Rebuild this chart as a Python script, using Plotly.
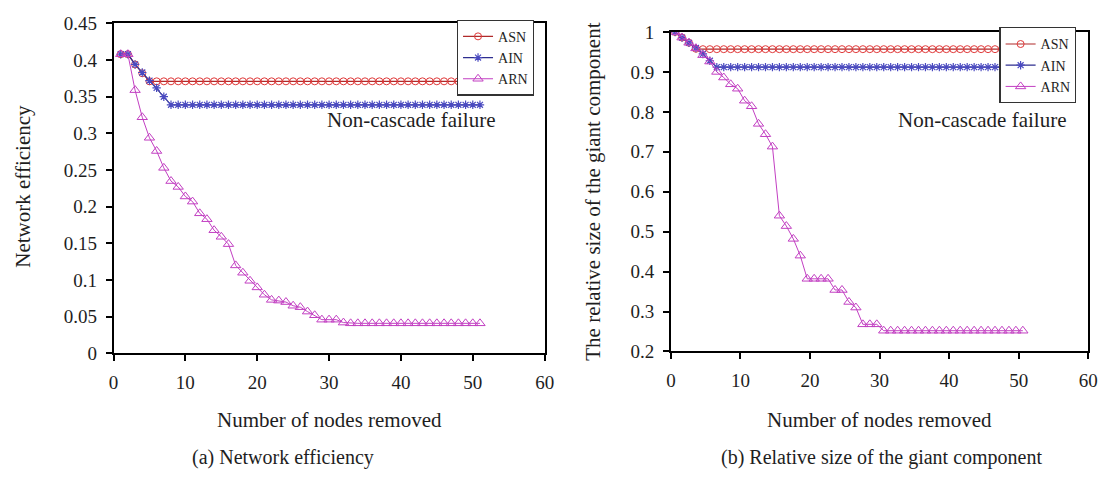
import plotly.graph_objects as go

# ---------------- data ----------------
nodes_a = list(range(1, 52))                      # nodes removed, panel (a)
nodes_b = [0.6 + i for i in range(51)]            # nodes removed, panel (b)

eff_asn = [0.408, 0.408, 0.394, 0.382] + [0.371] * 47
eff_ain = [0.408, 0.408, 0.394, 0.383, 0.372, 0.362, 0.350] + [0.339] * 44
eff_arn = [0.408, 0.408, 0.359, 0.322, 0.294, 0.276, 0.253, 0.235, 0.227, 0.214,
           0.207, 0.191, 0.183, 0.168, 0.159, 0.149, 0.120, 0.110, 0.099, 0.090,
           0.080, 0.073, 0.072, 0.070, 0.065, 0.063, 0.057, 0.052, 0.046, 0.046,
           0.046, 0.042] + [0.041] * 19

gc_asn = [1.0, 0.986, 0.973, 0.958] + [0.957] * 47
gc_ain = [1.0, 0.986, 0.973, 0.960, 0.945, 0.928] + [0.912] * 45
gc_arn = [1.0, 0.986, 0.973, 0.959, 0.942, 0.926, 0.900, 0.886, 0.869, 0.858,
          0.828, 0.814, 0.770, 0.744, 0.713, 0.540, 0.514, 0.482, 0.440, 0.382,
          0.382, 0.382, 0.382, 0.354, 0.354, 0.324, 0.310, 0.268, 0.268, 0.268] + [0.252] * 21

x_ticks = [0, 10, 20, 30, 40, 50, 60]
ya_ticks = [0, 0.05, 0.1, 0.15, 0.2, 0.25, 0.3, 0.35, 0.4, 0.45]
ya_labels = ["0", "0.05", "0.1", "0.15", "0.2", "0.25", "0.3", "0.35", "0.4", "0.45"]
yb_ticks = [0.2, 0.3, 0.4, 0.5, 0.6, 0.7, 0.8, 0.9, 1.0]
yb_labels = ["0.2", "0.3", "0.4", "0.5", "0.6", "0.7", "0.8", "0.9", "1"]

# ---------------- styling ----------------
W, H = 1113, 483
FONT = "Liberation Serif"
TXT = "#1e1e1e"
styles = {
    "ASN": dict(line=dict(color="#b02a2a", width=1.2),
                marker=dict(symbol="circle-open", size=7, color="#e03a3a", line=dict(width=1))),
    "AIN": dict(line=dict(color="#2e2e8f", width=1.2),
                marker=dict(symbol="asterisk-open", size=7, color="#4a4ac0", line=dict(width=1.2))),
    "ARN": dict(line=dict(color="#c23fc2", width=1),
                marker=dict(symbol="triangle-up-open", size=9, color="#c23fc2", line=dict(width=1))),
}

fig = go.Figure()
for name, ys in (("ASN", eff_asn), ("AIN", eff_ain), ("ARN", eff_arn)):
    fig.add_trace(go.Scatter(x=nodes_a, y=ys, name=name, mode="lines+markers",
                             xaxis="x", yaxis="y", legend="legend", **styles[name]))
for name, ys in (("ASN", gc_asn), ("AIN", gc_ain), ("ARN", gc_arn)):
    fig.add_trace(go.Scatter(x=nodes_b, y=ys, name=name, mode="lines+markers",
                             xaxis="x2", yaxis="y2", legend="legend2", **styles[name]))

def px(x):
    return x / W

def py(y):
    return 1 - y / H

axis_common = dict(showgrid=False, zeroline=False, showline=True, linecolor="black",
                   linewidth=1.5, mirror=True, ticks="outside", ticklen=6, tickwidth=1.5,
                   tickcolor="black", ticklabelstandoff=5,
                   tickfont=dict(family=FONT, size=19, color=TXT))

legend_common = dict(bgcolor="white", bordercolor="#333", borderwidth=1.2,
                     font=dict(family=FONT, size=14, color=TXT),
                     xanchor="left", yanchor="top", tracegroupgap=0, itemwidth=30)

fig.update_layout(
    width=W, height=H, margin=dict(l=0, r=0, t=0, b=0),
    paper_bgcolor="white", plot_bgcolor="white", showlegend=True,
    xaxis=dict(domain=[px(110), px(547)], range=[0, 60], tickvals=x_ticks,
               anchor="y", **axis_common),
    yaxis=dict(domain=[py(359), py(14)], range=[0, 0.45], tickvals=ya_ticks,
               ticktext=ya_labels, anchor="x", **axis_common),
    xaxis2=dict(domain=[px(675), px(1098)], range=[0, 60], tickvals=x_ticks,
                anchor="y2", **axis_common),
    yaxis2=dict(domain=[py(357), py(23)], range=[0.2, 1.0], tickvals=yb_ticks,
                ticktext=yb_labels, anchor="x2", **axis_common),
    legend=dict(x=px(458), y=py(10), **legend_common),
    legend2=dict(x=px(1008), y=py(18), **legend_common),
)

def txt(text, x, y, size=17, angle=0):
    fig.add_annotation(text=text, x=px(x), y=py(y), xref="paper", yref="paper",
                       showarrow=False, textangle=angle, xanchor="center", yanchor="middle",
                       font=dict(family=FONT, size=size, color=TXT))

txt("Non-cascade failure", 412, 115, size=21)
txt("Non-cascade failure", 990, 115, size=21)
txt("Number of nodes removed", 329, 429, size=21)
txt("Number of nodes removed", 886, 429, size=21)
txt("(a) Network efficiency", 282, 468, size=20)
txt("(b) Relative size of the giant component", 888, 468, size=20)
txt("Network efficiency", 18, 184, size=21, angle=-90)
txt("The relative size of the giant component", 596, 190, size=21, angle=-90)

fig.write_html("out.html")
